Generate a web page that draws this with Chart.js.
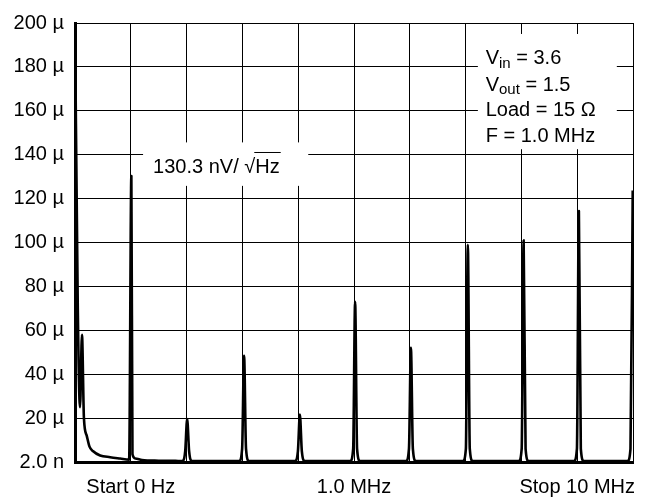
<!DOCTYPE html>
<html>
<head>
<meta charset="utf-8">
<script src="https://cdn.jsdelivr.net/npm/chart.js@4.4.1/dist/chart.umd.min.js"></script>
<style>
  body { margin: 0; background: #fff; }
  #wrap { width: 654px; height: 501px; position: relative; }
</style>
</head>
<body>
<div id="wrap"><canvas id="grafica"></canvas></div>
<script>
// frecuencia (MHz) y densidad de ruido (uV/rtHz)
const freqMHz = [
  0.00, 0.05, 0.09, 0.125, 0.16, 0.21, 0.26, 0.32, 0.45, 0.63, 0.81, 0.97,
  1.01, 1.03, 1.08, 1.20, 1.50, 1.80,
  1.92, 1.975, 2.01, 2.045, 2.10,
  2.94, 2.995, 3.03, 3.065, 3.12,
  3.94, 3.995, 4.03, 4.065, 4.12,
  4.93, 4.985, 5.02, 5.055, 5.11,
  5.93, 5.985, 6.02, 6.055, 6.11,
  6.95, 7.005, 7.04, 7.075, 7.13,
  7.95, 8.005, 8.04, 8.075, 8.13,
  8.94, 8.995, 9.03, 9.065, 9.12,
  9.90, 9.955, 9.995
];
const noiseUV = [
  200, 70, 25, 58, 20, 12, 7, 5.0, 3.0, 2.2, 1.6, 1.1,
  130.3, 3.5, 1.6, 0.9, 0.6, 0.5,
  0.4, 5, 19.6, 5, 0.4,
  0.4, 6, 48.4, 6, 0.4,
  0.4, 5, 21.6, 5, 0.4,
  0.4, 6, 73, 6, 0.4,
  0.4, 6, 52, 6, 0.4,
  0.4, 6, 99, 6, 0.4,
  0.4, 6, 101, 6, 0.4,
  0.4, 6, 114.3, 6, 0.4,
  0.4, 6, 123.7
];

const xTickText = ['', 'Start 0 Hz', '', '', '', '1.0 MHz', '', '', '', 'Stop 10 MHz', ''];
const yTickText = ['2.0 n', '20 µ', '40 µ', '60 µ', '80 µ', '100 µ', '120 µ', '140 µ', '160 µ', '180 µ', '200 µ'];

const condiciones = [
  ['V', 'in', ' = 3.6'],
  ['V', 'out', ' = 1.5'],
  ['Load = 15 Ω', '', ''],
  ['F = 1.0 MHz', '', '']
];
const etiquetaRuido = '130.3 nV/ √Hz';

const fuente = '"Liberation Sans", Arial, sans-serif';

// cajas blancas con texto encima de la rejilla
const cajasTexto = {
  id: 'cajasTexto',
  beforeDatasetsDraw(chart) {
    const { ctx, scales: { x, y } } = chart;
    ctx.save();
    ctx.fillStyle = '#fff';
    // caja de condiciones
    let x1 = x.getPixelForValue(7.22), x2 = x.getPixelForValue(9.71);
    let y1 = y.getPixelForValue(195), y2 = y.getPixelForValue(142.5);
    ctx.fillRect(x1, y1, x2 - x1, y2 - y1);
    // caja 130.3 nV
    x1 = x.getPixelForValue(1.22); x2 = x.getPixelForValue(4.18);
    y1 = y.getPixelForValue(145.6); y2 = y.getPixelForValue(125.8);
    ctx.fillRect(x1, y1, x2 - x1, y2 - y1);

    ctx.fillStyle = '#000';
    ctx.textBaseline = 'middle';
    ctx.textAlign = 'left';
    const filas = [183.8, 171.7, 160, 148.3];
    condiciones.forEach((c, i) => {
      let px = x.getPixelForValue(7.36);
      const py = y.getPixelForValue(filas[i]);
      ctx.font = '20px ' + fuente;
      ctx.fillText(c[0], px, py);
      px += ctx.measureText(c[0]).width;
      if (c[1]) {
        ctx.font = '15px ' + fuente;
        ctx.fillText(c[1], px, py + 5);
        px += ctx.measureText(c[1]).width;
        ctx.font = '20px ' + fuente;
        ctx.fillText(c[2], px, py);
      }
    });

    ctx.font = '20px ' + fuente;
    const tx = x.getPixelForValue(1.40);
    const ty = y.getPixelForValue(134.4);
    ctx.fillText(etiquetaRuido, tx, ty);
    // raya de la raiz sobre Hz
    const w = ctx.measureText(etiquetaRuido).width;
    const wHz = ctx.measureText('Hz').width;
    ctx.strokeStyle = '#000';
    ctx.lineWidth = 1;
    ctx.beginPath();
    ctx.moveTo(tx + w - wHz - 1, ty - 14.5);
    ctx.lineTo(tx + w + 1, ty - 14.5);
    ctx.stroke();
    ctx.restore();
  }
};

const grafica = new Chart(document.getElementById('grafica'), {
  type: 'line',
  data: {
    datasets: [{
      data: freqMHz.map((f, i) => ({ x: f, y: noiseUV[i] })),
      borderColor: '#000',
      borderWidth: 2.6,
      borderJoinStyle: 'round',
      pointRadius: 0,
      tension: 0.4,
      cubicInterpolationMode: 'monotone',
      fill: false
    }]
  },
  options: {
    responsive: true,
    maintainAspectRatio: false,
    animation: false,
    layout: { padding: { top: 17, right: 21, left: 0, bottom: 0 } },
    plugins: { legend: { display: false }, tooltip: { enabled: false } },
    scales: {
      x: {
        type: 'linear',
        min: 0,
        max: 10,
        afterFit: (s) => { s.height = 39; },
        grid: { color: '#000', lineWidth: 1, drawTicks: false },
        border: { display: true, color: '#000', width: 3 },
        ticks: {
          stepSize: 1,
          autoSkip: false,
          maxRotation: 0,
          padding: 13,
          color: '#000',
          font: { family: fuente, size: 20 },
          callback: (v) => xTickText[v]
        }
      },
      y: {
        min: 0,
        max: 200,
        afterFit: (s) => { s.width = 75; },
        grid: { color: '#000', lineWidth: 1, drawTicks: false },
        border: { display: true, color: '#000', width: 3 },
        ticks: {
          stepSize: 20,
          padding: 11,
          color: '#000',
          font: { family: fuente, size: 20 },
          callback: (v) => yTickText[v / 20]
        }
      }
    }
  },
  plugins: [cajasTexto]
});
</script>
</body>
</html>
